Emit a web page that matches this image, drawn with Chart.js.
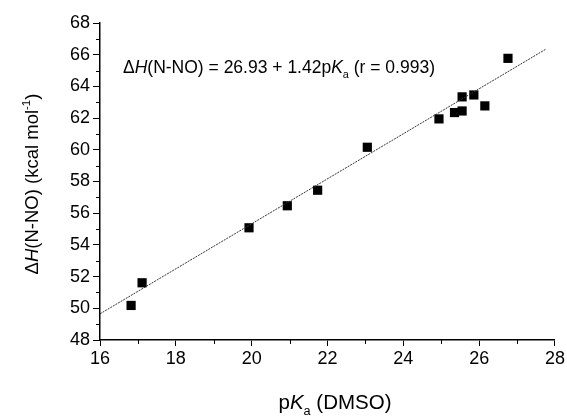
<!DOCTYPE html>
<html lang="en">
<head>
<meta charset="UTF-8">
<title>dH(N-NO) vs pKa</title>
<script src="https://cdn.jsdelivr.net/npm/chart.js"></script>
<style>
    body { margin: 0; background: #fff; }
    .wrap { width: 567px; height: 418px; }
</style>
</head>
<body>
<div class="wrap"><canvas id="bdeChart" width="567" height="418"></canvas></div>
<script>
    // measured points
    const pKa = [16.82, 17.11, 19.93, 20.94, 21.74, 23.05, 24.94, 25.35, 25.55, 25.55, 25.86, 26.15, 26.76];
    const dH  = [50.18, 51.61, 55.08, 56.47, 57.45, 60.16, 61.95, 62.35, 62.45, 63.34, 63.46, 62.77, 65.77];

    // regression line ends
    const fitX = [16, 27.76];
    const fitY = [49.65, 66.35];

    const xTicks = [16, 18, 20, 22, 24, 26, 28];
    const yTicks = [48, 50, 52, 54, 56, 58, 60, 62, 64, 66, 68];

    const FONT = '"Liberation Sans", Arial, sans-serif';

    function measureRich(ctx, parts, size) {
        let w = 0;
        parts.forEach(p => {
            const fs = (p.sub || p.sup) ? size * 0.62 : size;
            ctx.font = (p.it ? 'italic ' : '') + fs + 'px ' + FONT;
            w += ctx.measureText(p.t).width;
        });
        return w;
    }

    function drawRich(ctx, parts, x, y, size) {
        let cx = x;
        parts.forEach(p => {
            const fs = (p.sub || p.sup) ? size * 0.62 : size;
            ctx.font = (p.it ? 'italic ' : '') + fs + 'px ' + FONT;
            const dy = p.sub ? size * 0.28 : (p.sup ? -size * 0.42 : 0);
            ctx.fillText(p.t, cx, y + dy);
            cx += ctx.measureText(p.t).width;
        });
    }

    const eqText = [
        { t: '\u0394' }, { t: 'H', it: true }, { t: '(N-NO) = 26.93 + 1.42p' },
        { t: 'K', it: true }, { t: 'a', sub: true }, { t: ' (r = 0.993)' }
    ];
    const xTitle = [{ t: 'p' }, { t: 'K', it: true }, { t: 'a', sub: true }, { t: ' (DMSO)' }];
    const yTitle = [
        { t: '\u0394' }, { t: 'H', it: true }, { t: '(N-NO) (kcal mol' }, { t: '-1', sup: true }, { t: ')' }
    ];

    const extras = {
        id: 'extras',
        afterDraw(chart) {
            const ctx = chart.ctx;
            const xs = chart.scales.x, ys = chart.scales.y;
            ctx.save();
            ctx.strokeStyle = '#000';
            ctx.lineWidth = 1;
            // minor ticks
            ctx.beginPath();
            for (let v = 17; v < 28; v += 2) {
                const px = Math.round(xs.getPixelForValue(v)) + 0.5;
                ctx.moveTo(px, ys.bottom);
                ctx.lineTo(px, ys.bottom + 4);
            }
            for (let v = 49; v < 68; v += 2) {
                const py = Math.round(ys.getPixelForValue(v)) + 0.5;
                ctx.moveTo(xs.left, py);
                ctx.lineTo(xs.left - 4, py);
            }
            ctx.stroke();

            ctx.fillStyle = '#000';
            ctx.textBaseline = 'alphabetic';
            ctx.textAlign = 'left';
            // equation
            drawRich(ctx, eqText, 123, 73, 17.5);
            // x title
            const wx = measureRich(ctx, xTitle, 20.5);
            drawRich(ctx, xTitle, 335 - wx / 2, 409, 20.5);
            // y title
            ctx.translate(38, 184);
            ctx.rotate(-Math.PI / 2);
            const wy = measureRich(ctx, yTitle, 18.5);
            drawRich(ctx, yTitle, -wy / 2, 0, 18.5);
            ctx.restore();
        }
    };

    const ctx = document.getElementById('bdeChart').getContext('2d');
    new Chart(ctx, {
        type: 'scatter',
        data: {
            datasets: [
                {
                    type: 'line',
                    data: fitX.map((x, i) => ({ x: x, y: fitY[i] })),
                    borderColor: '#333',
                    borderWidth: 1,
                    borderDash: [2, 1],
                    pointRadius: 0,
                    fill: false
                },
                {
                    data: pKa.map((x, i) => ({ x: x, y: dH[i] })),
                    pointStyle: 'rect',
                    pointRadius: 6.5,
                    backgroundColor: '#000',
                    borderColor: '#000',
                    borderWidth: 0
                }
            ]
        },
        options: {
            responsive: false,
            animation: false,
            layout: { padding: { top: 23, right: 10, left: 0, bottom: 0 } },
            plugins: { legend: { display: false }, tooltip: { enabled: false } },
            scales: {
                x: {
                    type: 'linear',
                    min: 16, max: 28,
                    afterBuildTicks: s => { s.ticks = xTicks.map(v => ({ value: v })); },
                    afterFit: s => { s.height = 78; },
                    grid: { drawOnChartArea: false, color: '#000', tickLength: 6 },
                    border: { color: '#000', width: 1.5 },
                    ticks: { color: '#000', font: { size: 18, family: FONT }, padding: 2, maxRotation: 0 }
                },
                y: {
                    type: 'linear',
                    min: 48, max: 68,
                    afterBuildTicks: s => { s.ticks = yTicks.map(v => ({ value: v })); },
                    afterFit: s => { s.width = 100; },
                    grid: { drawOnChartArea: false, color: '#000', tickLength: 7 },
                    border: { color: '#000', width: 1.5 },
                    ticks: { color: '#000', font: { size: 18, family: FONT }, padding: 3 }
                }
            }
        },
        plugins: [extras]
    });
</script>
</body>
</html>
